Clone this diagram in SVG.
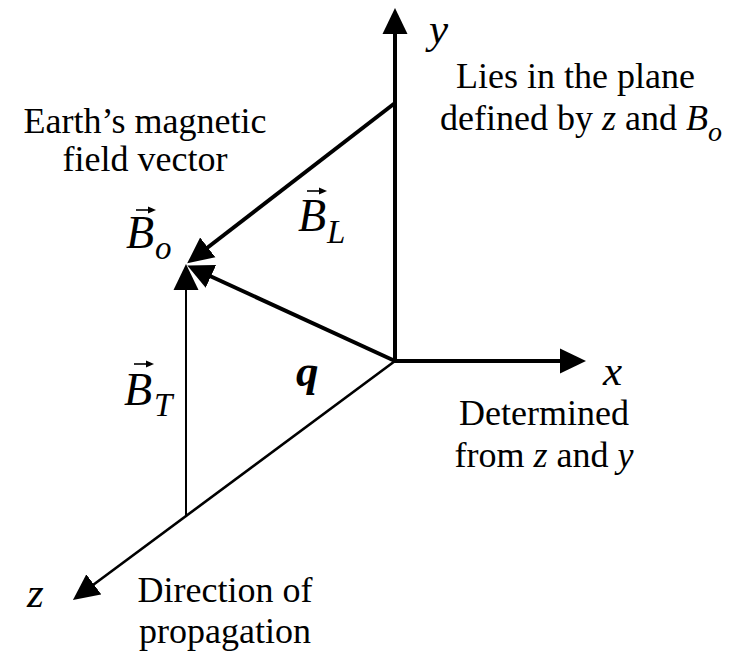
<svg xmlns="http://www.w3.org/2000/svg" width="738" height="657" viewBox="0 0 738 657">
<style>
.t{font-family:"Liberation Serif","Times New Roman",serif;font-size:36px;fill:#000}
.i{font-style:italic}
.v{font-family:"Liberation Serif","Times New Roman",serif;font-style:italic;font-size:43px;fill:#000}
.bv{font-family:"Liberation Serif","Times New Roman",serif;font-style:italic;font-size:46px;fill:#000}
.sub{font-family:"Liberation Serif","Times New Roman",serif;font-style:italic;font-size:33px;fill:#000}
.q{font-family:"Liberation Serif","Times New Roman",serif;font-style:italic;font-weight:bold;font-size:45px;fill:#000}
.thick{stroke:#000;stroke-width:4;fill:none}
.mid{stroke:#000;stroke-width:2.6;fill:none}
.thin{stroke:#000;stroke-width:2;fill:none}
</style>
<defs>
<marker id="ah" viewBox="0 -13 26 26" markerWidth="26" markerHeight="26" refX="1" refY="0" orient="auto" markerUnits="userSpaceOnUse">
<path d="M0,-12.5 L26,0 L0,12.5 z" fill="#000"/>
</marker>
<g id="va">
<path d="M0,0 H14" stroke="#000" stroke-width="1.6"/>
<path d="M12,-3.5 L20,0 L12,3.5 z" fill="#000"/>
</g>
</defs>
<rect width="738" height="657" fill="#fff"/>
<g id="connectors">
<path id="axis-y" class="thick" d="M395,363 V33" marker-end="url(#ah)"/>
<path id="axis-x" class="thick" d="M393,361 H561" marker-end="url(#ah)"/>
<path id="axis-z" class="mid" d="M395,361 L93,585" marker-end="url(#ah)"/>
<path id="vec-BL" class="thick" d="M395,103 L207,248" marker-end="url(#ah)"/>
<path id="vec-Bo" class="thick" d="M395,361 L210,276" marker-end="url(#ah)"/>
<path id="vec-BT" class="thin" d="M186,517 V289" marker-end="url(#ah)"/>
</g>
<g id="label-y"><text class="v" x="429" y="43">y</text></g>
<g id="label-x"><text class="v" x="603" y="385">x</text></g>
<g id="label-z"><text class="v" x="27" y="607">z</text></g>
<g id="note-y">
<text class="t" x="456" y="88">Lies in the plane</text>
<text class="t" x="440" y="130">defined by <tspan class="i">z</tspan> and <tspan class="i">B</tspan><tspan class="i" font-size="28" dy="11">o</tspan></text>
</g>
<g id="note-earth">
<text class="t" x="145" y="133" text-anchor="middle">Earth’s magnetic</text>
<text class="t" x="145" y="171" text-anchor="middle">field vector</text>
</g>
<g id="note-x">
<text class="t" x="544" y="425" text-anchor="middle">Determined</text>
<text class="t" x="544" y="467" text-anchor="middle">from <tspan class="i">z</tspan> and <tspan class="i">y</tspan></text>
</g>
<g id="note-z">
<text class="t" x="225" y="602" text-anchor="middle">Direction of</text>
<text class="t" x="225" y="643" text-anchor="middle">propagation</text>
</g>
<g id="label-Bo">
<use href="#va" x="136" y="210"/>
<text class="bv" x="126" y="248">B</text>
<text class="sub" x="155" y="259">o</text>
</g>
<g id="label-BL">
<use href="#va" x="307" y="191"/>
<text class="bv" x="298" y="231">B</text>
<text class="sub" x="327" y="243">L</text>
</g>
<g id="label-BT">
<use href="#va" x="134" y="364"/>
<text class="bv" x="124" y="405">B</text>
<text class="sub" x="154" y="416">T</text>
</g>
<g id="label-q"><text class="q" x="296" y="386">q</text></g>
</svg>
